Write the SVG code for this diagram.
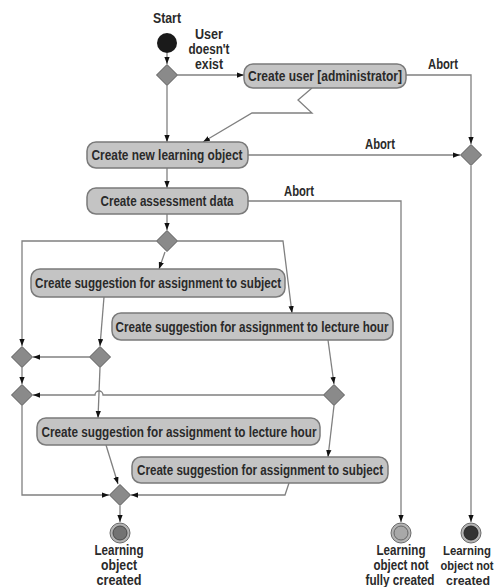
<svg xmlns="http://www.w3.org/2000/svg" width="499" height="587" viewBox="0 0 499 587">
<defs>
<marker id="ah" viewBox="0 0 8 6" refX="8" refY="3" markerWidth="7" markerHeight="5.5" markerUnits="userSpaceOnUse" orient="auto">
<path d="M0,0 L8,3 L0,6 Z" fill="#111"/>
</marker>
<style>
.box{fill:#c4c4c4;stroke:#7a7a7a;stroke-width:1.5}
.dia{fill:#8a8a8a;stroke:#5a5a5a;stroke-width:1}
.ln{fill:none;stroke:#808080;stroke-width:1.3}
.ar{marker-end:url(#ah)}
.t{font-family:"Liberation Sans",Arial,sans-serif;font-weight:bold;font-size:14px;fill:#2a2a2a;text-anchor:middle}
.s{font-size:12.5px}
.ring{fill:#b4b4b4;stroke:#6a6a6a;stroke-width:1}
</style>
</defs>
<rect width="499" height="587" fill="#ffffff"/>

<g id="connectors">
<line class="ln ar" x1="167" y1="53" x2="167" y2="64"/>
<line class="ln ar" x1="177.5" y1="75" x2="244" y2="75"/>
<polyline class="ln ar" points="406,75 471,75 471,144"/>
<polyline class="ln ar" points="312,88 298,100 312,113 252,113 203,142"/>
<line class="ln ar" x1="167" y1="85.5" x2="167" y2="142"/>
<line class="ln ar" x1="248" y1="155" x2="460" y2="155"/>
<line class="ln ar" x1="167" y1="168" x2="167" y2="188"/>
<polyline class="ln ar" points="248,201 401,201 401,522"/>
<line class="ln ar" x1="167" y1="214" x2="167" y2="230"/>
<polyline class="ln ar" points="156.5,241 22,241 22,346"/>
<polyline class="ln ar" points="177.5,241 283,241 292,313"/>
<line class="ln ar" x1="165" y1="252" x2="159" y2="269"/>
<line class="ln ar" x1="104" y1="297" x2="100" y2="346"/>
<line class="ln ar" x1="89.5" y1="357" x2="33" y2="357"/>
<line class="ln ar" x1="22" y1="367.5" x2="22" y2="384"/>
<line class="ln ar" x1="328" y1="340" x2="334" y2="384"/>
<path class="ln ar" d="M323.5,395 H103 A4,4 0 0 0 95,395 H33"/>
<line class="ln ar" x1="100" y1="367.5" x2="98" y2="418"/>
<line class="ln ar" x1="334" y1="405.5" x2="328" y2="457"/>
<polyline class="ln ar" points="22,405.5 22,495 109,495"/>
<line class="ln ar" x1="106" y1="445" x2="118" y2="484"/>
<polyline class="ln ar" points="289,483 285,495 131,495"/>
<line class="ln ar" x1="120" y1="506" x2="120" y2="522"/>
<line class="ln ar" x1="471" y1="166" x2="471" y2="522"/>
<text class="t" x="443" y="69" textLength="30" lengthAdjust="spacingAndGlyphs">Abort</text>
<text class="t" x="380" y="149" textLength="30" lengthAdjust="spacingAndGlyphs">Abort</text>
<text class="t" x="299" y="196" textLength="30" lengthAdjust="spacingAndGlyphs">Abort</text>
<text class="t" x="209" y="39" textLength="28" lengthAdjust="spacingAndGlyphs">User</text>
<text class="t" x="209" y="54" textLength="41" lengthAdjust="spacingAndGlyphs">doesn't</text>
<text class="t" x="209" y="69" textLength="28" lengthAdjust="spacingAndGlyphs">exist</text>
</g>

<g id="start">
<circle cx="167" cy="43" r="10" fill="#1a1a1a"/>
<text class="t" x="167" y="23" textLength="28" lengthAdjust="spacingAndGlyphs">Start</text>
</g>

<g id="d1"><polygon class="dia" points="167,64.5 177.5,75 167,85.5 156.5,75"/></g>
<g id="d_abort"><polygon class="dia" points="471,144.5 481.5,155 471,165.5 460.5,155"/></g>
<g id="d2"><polygon class="dia" points="167,230.5 177.5,241 167,251.5 156.5,241"/></g>
<g id="d3"><polygon class="dia" points="100,346.5 110.5,357 100,367.5 89.5,357"/></g>
<g id="dA"><polygon class="dia" points="22,346.5 32.5,357 22,367.5 11.5,357"/></g>
<g id="dB"><polygon class="dia" points="22,384.5 32.5,395 22,405.5 11.5,395"/></g>
<g id="dC"><polygon class="dia" points="334,384.5 344.5,395 334,405.5 323.5,395"/></g>
<g id="djoin"><polygon class="dia" points="120,484.5 130.5,495 120,505.5 109.5,495"/></g>

<g id="createUser">
<rect class="box" x="244" y="64" width="162" height="24" rx="9"/>
<text class="t" x="325" y="81" textLength="154" lengthAdjust="spacingAndGlyphs">Create user [administrator]</text>
</g>
<g id="createLO">
<rect class="box" x="87" y="142" width="161" height="26" rx="9"/>
<text class="t" x="167" y="160" textLength="151" lengthAdjust="spacingAndGlyphs">Create new learning object</text>
</g>
<g id="assess">
<rect class="box" x="87" y="188" width="161" height="26" rx="9"/>
<text class="t" x="167" y="206" textLength="133" lengthAdjust="spacingAndGlyphs">Create assessment data</text>
</g>
<g id="subj1">
<rect class="box" x="31" y="269" width="254" height="28" rx="9"/>
<text class="t" x="158" y="288" textLength="246" lengthAdjust="spacingAndGlyphs">Create suggestion for assignment to subject</text>
</g>
<g id="lect1">
<rect class="box" x="112" y="313" width="281" height="27" rx="9"/>
<text class="t" x="252" y="331.5" textLength="273" lengthAdjust="spacingAndGlyphs">Create suggestion for assignment to lecture hour</text>
</g>
<g id="lect2">
<rect class="box" x="37" y="418" width="283" height="27" rx="9"/>
<text class="t" x="179" y="436.5" textLength="275" lengthAdjust="spacingAndGlyphs">Create suggestion for assignment to lecture hour</text>
</g>
<g id="subj2">
<rect class="box" x="132" y="457" width="256" height="26" rx="9"/>
<text class="t" x="260" y="475" textLength="246" lengthAdjust="spacingAndGlyphs">Create suggestion for assignment to subject</text>
</g>

<g id="end1">
<circle class="ring" cx="120" cy="533" r="10"/>
<circle cx="120" cy="533" r="7" fill="#737373" stroke="#4a4a4a" stroke-width="1"/>
<text class="t" x="119" y="555" textLength="49" lengthAdjust="spacingAndGlyphs">Learning</text>
<text class="t" x="119" y="570" textLength="36" lengthAdjust="spacingAndGlyphs">object</text>
<text class="t" x="119" y="585" textLength="45" lengthAdjust="spacingAndGlyphs">created</text>
</g>
<g id="end2">
<circle class="ring" cx="401" cy="533" r="10" fill="#909090"/>
<circle cx="401" cy="533" r="7" fill="#a8a8a8" stroke="#666" stroke-width="1"/>
<text class="t" x="401" y="555" textLength="49" lengthAdjust="spacingAndGlyphs">Learning</text>
<text class="t" x="401" y="570" textLength="55" lengthAdjust="spacingAndGlyphs">object not</text>
<text class="t" x="400" y="585" textLength="69" lengthAdjust="spacingAndGlyphs">fully created</text>
</g>
<g id="end3">
<circle class="ring" cx="471" cy="533" r="10"/>
<circle cx="471" cy="533" r="7" fill="#333" stroke="#222" stroke-width="1"/>
<text class="t s" x="467" y="555" textLength="48" lengthAdjust="spacingAndGlyphs">Learning</text>
<text class="t s" x="467" y="570" textLength="53" lengthAdjust="spacingAndGlyphs">object not</text>
<text class="t s" x="468" y="585" textLength="44" lengthAdjust="spacingAndGlyphs">created</text>
</g>
</svg>
